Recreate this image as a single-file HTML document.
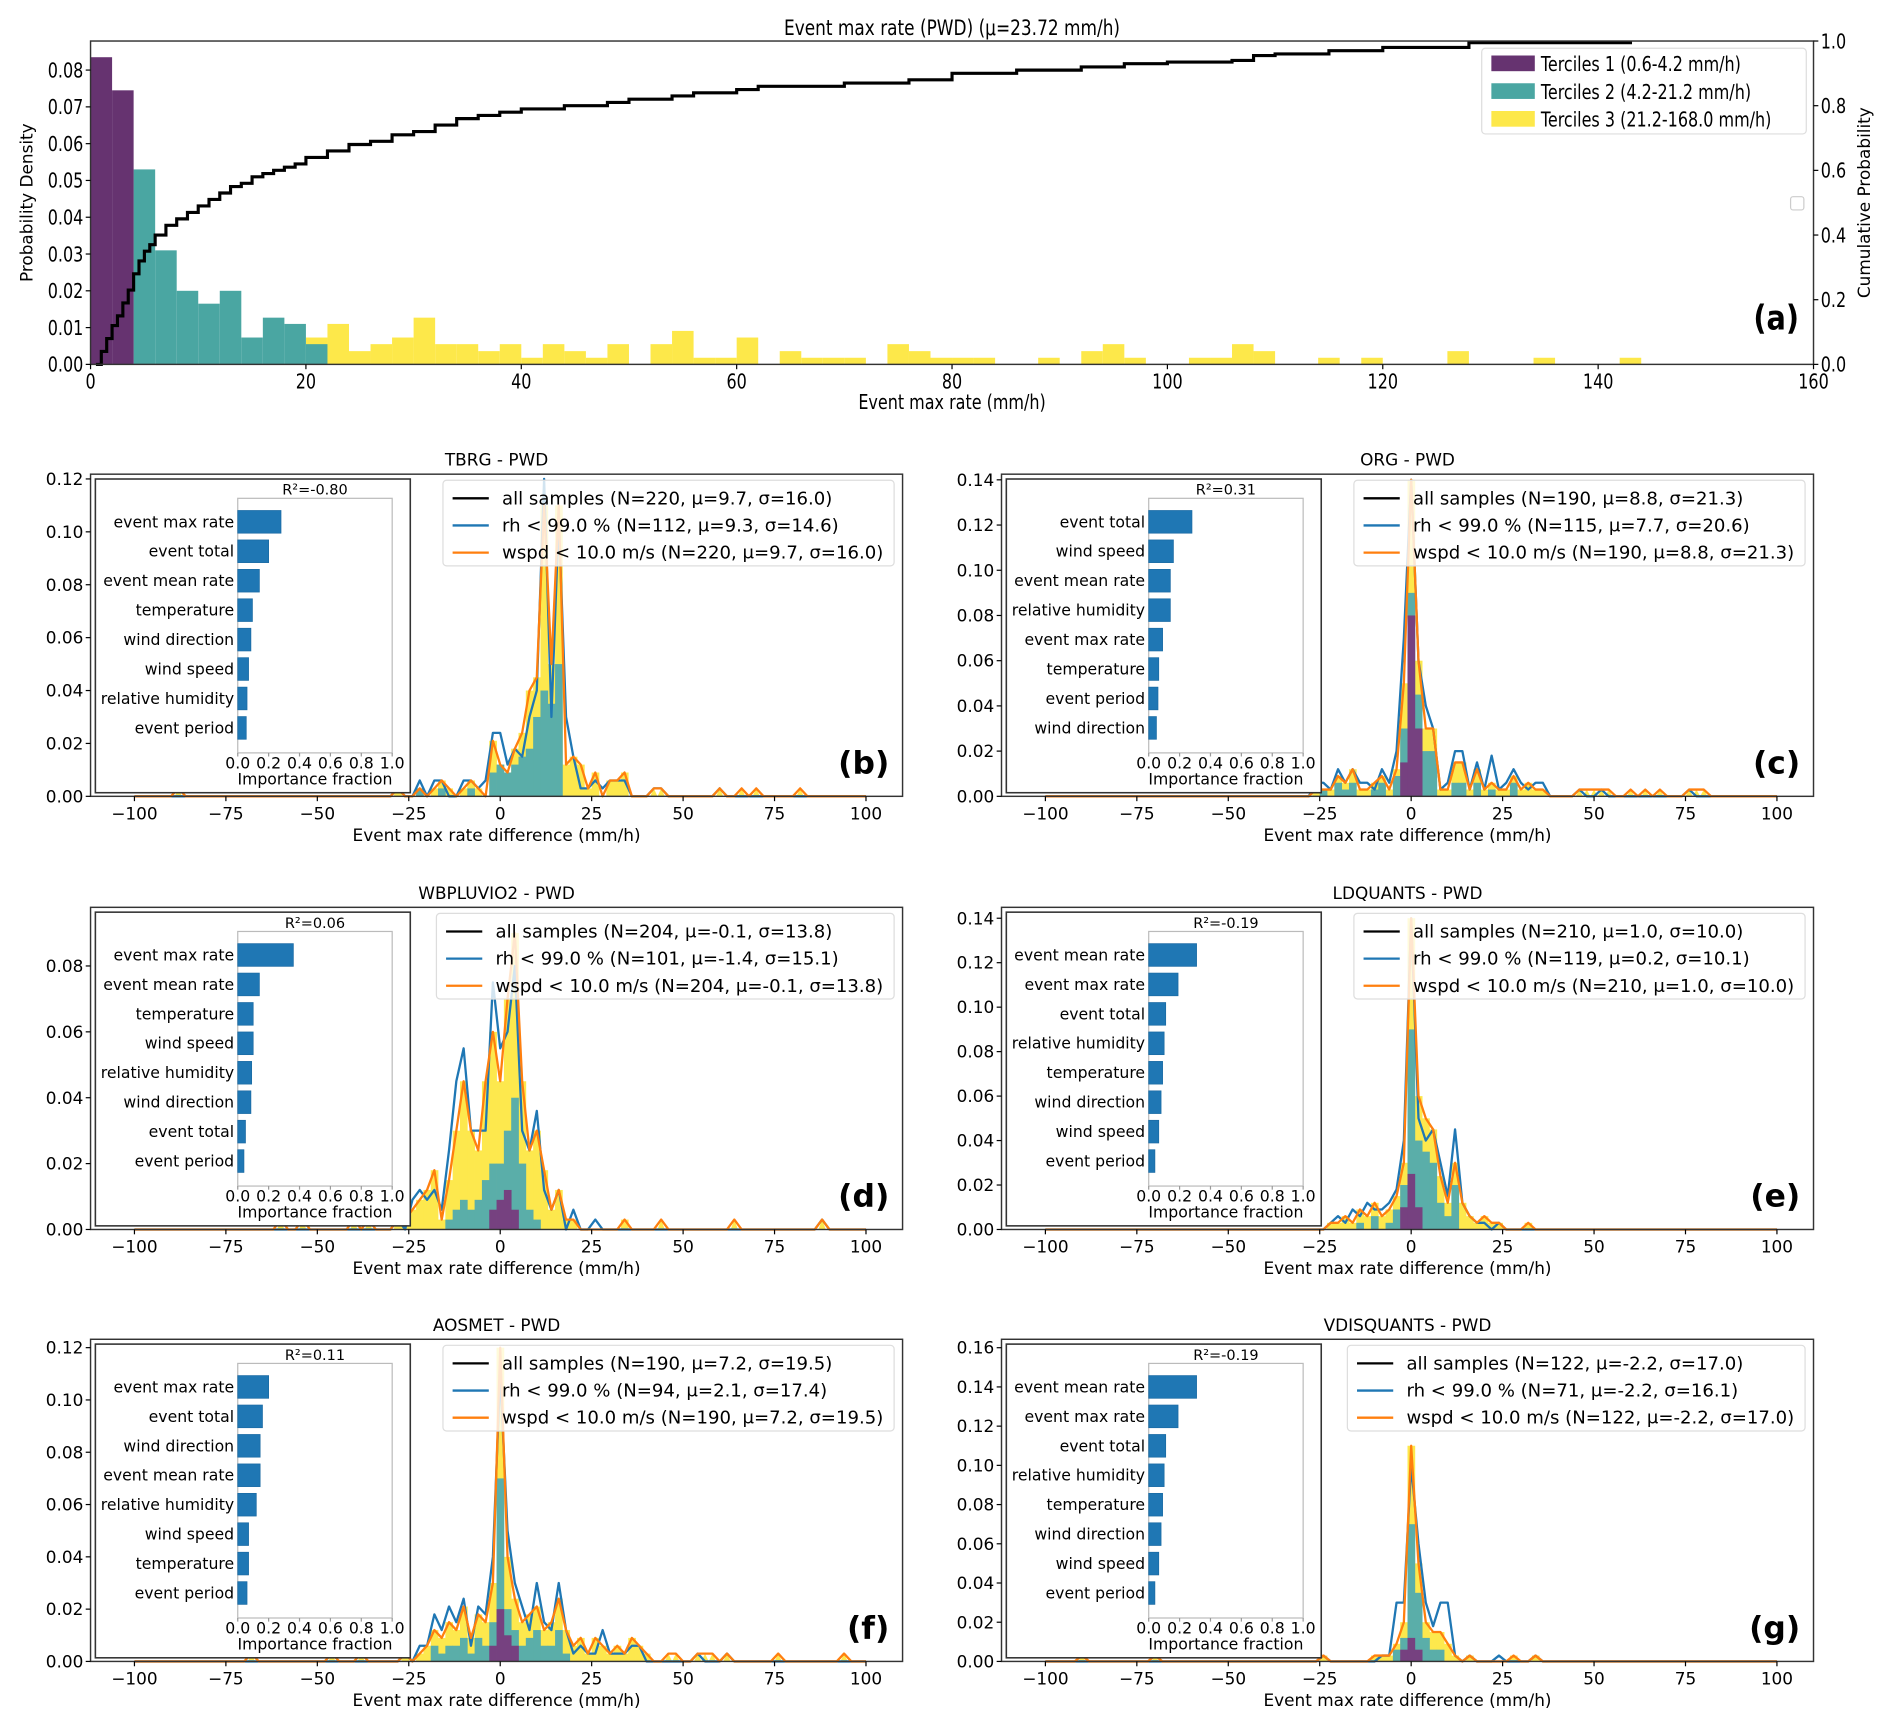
<!DOCTYPE html>
<html><head><meta charset="utf-8">
<style>
html,body{margin:0;padding:0;background:#fff;}
svg{display:block;}
text{font-family:"DejaVu Sans","Liberation Sans",sans-serif;fill:#000;}
</style></head>
<body>
<svg id="fig" width="1892" height="1729" viewBox="0 0 1568 1433" xmlns="http://www.w3.org/2000/svg"></svg>
<script>
// ---------- Panel (a) data ----------
const topBinsPurple = [0.0835, 0.0745];            // bins 0-2, 2-4
const topBinsTeal = [0.053,0.031,0.020,0.0165,0.020,0.0073,0.0127,0.011,0.0055]; // 4..22
const topYellowStart = 20;
const topBinsYellow = [0.0073,0.011,0.0036,0.0055,0.0073,0.0127,0.0055,0.0055,0.0036,0.0055,
 0.0018,0.0055,0.0036,0.0018,0.0055,0,0.0055,0.0091,0.0018,0.0018,0.0073,0,0.0036,0.0018,0.0018,
 0.0018,0,0.0055,0.0036,0.0018,0.0018,0.0018,0,0,0.0018,0,0.0036,0.0055,0.0018,0,0,0.0018,0.0018,
 0.0055,0.0036,0,0,0.0018,0,0.0018,0,0,0,0.0036,0,0,0,0.0018,0,0,0,0.0018];
const cdfX = [0.5,1,1.5,2,2.5,3,3.5,4,4.5,5,5.5,6,7,8,9,10,11,12,13,14,15,16,17,18,19,20,22,24,26,28,30,32,34,36,38,40,44,48,50,54,56,60,62,70,76,80,86,92,96,100,106,108,110,115,120,128,143];
const cdfP = [0,0.04,0.08,0.12,0.15,0.19,0.23,0.28,0.32,0.35,0.37,0.40,0.43,0.45,0.47,0.49,0.51,0.53,0.55,0.56,0.58,0.59,0.60,0.61,0.62,0.64,0.66,0.68,0.69,0.71,0.72,0.74,0.76,0.77,0.78,0.79,0.80,0.81,0.82,0.83,0.84,0.85,0.86,0.87,0.88,0.90,0.91,0.92,0.93,0.935,0.94,0.955,0.96,0.97,0.98,0.995,1.0];
const topXTicks = [0,20,40,60,80,100,120,140,160];
const topYTicks = [0,0.01,0.02,0.03,0.04,0.05,0.06,0.07,0.08];
const topY2Ticks = [0,0.2,0.4,0.6,0.8,1.0];

// ---------- Small panels data (bins of 2 mm/h, centres -30..40) ----------
const coreCenters = [-30,-28,-26,-24,-22,-20,-18,-16,-14,-12,-10,-8,-6,-4,-2,0,2,4,6,8,10,12,14,16,18,20,22,24,26,28,30,32,34,36,38,40];
const smallXTicks = [-100,-75,-50,-25,0,25,50,75,100];
const impLabelsB = ["event max rate","event total","event mean rate","temperature","wind direction","wind speed","relative humidity","event period"];
const impValsB = [0.28,0.20,0.14,0.095,0.085,0.07,0.06,0.055];
const impLabelsC = ["event total","wind speed","event mean rate","relative humidity","event max rate","temperature","event period","wind direction"];
const impValsC = [0.28,0.16,0.14,0.14,0.09,0.065,0.06,0.05];
const impLabelsD = ["event max rate","event mean rate","temperature","wind speed","relative humidity","wind direction","event total","event period"];
const impValsD = [0.36,0.14,0.10,0.10,0.09,0.085,0.05,0.04];
const impLabelsE = ["event mean rate","event max rate","event total","relative humidity","temperature","wind direction","wind speed","event period"];
const impValsE = [0.31,0.19,0.11,0.10,0.09,0.08,0.065,0.04];
const impLabelsF = ["event max rate","event total","wind direction","event mean rate","relative humidity","wind speed","temperature","event period"];
const impValsF = [0.20,0.16,0.145,0.145,0.12,0.07,0.07,0.06];
const impLabelsG = ["event mean rate","event max rate","event total","relative humidity","temperature","wind direction","wind speed","event period"];
const impValsG = [0.31,0.19,0.11,0.10,0.09,0.08,0.065,0.04];

const orangeB=[0,0.003,0,0,0.003,0,0.003,0.006,0.003,0,0.003,0.006,0.003,0,0.021,0.012,0.009,0.018,0.024,0.04,0.045,0.11,0.05,0.11,0.012,0.015,0.012,0.003,0.009,0,0.006,0.006,0.009,0,0,0];
const blueB  =[0,0.003,0,0,0.006,0,0.006,0.006,0,0,0.006,0.006,0.003,0.006,0.024,0.024,0.012,0.018,0.015,0.03,0.04,0.12,0.03,0.105,0.03,0.015,0.003,0.003,0.006,0.003,0.006,0.006,0.006,0,0,0];
const tealB  =[0,0,0,0,0.003,0,0,0.003,0,0,0,0.003,0,0,0.009,0.012,0.009,0.012,0.015,0.018,0.03,0.04,0.035,0.05,0,0,0,0,0,0,0,0,0,0,0,0];
const purpB  =[0,0,0,0,0,0,0,0,0,0,0,0,0,0,0,0,0,0,0,0,0,0,0,0,0,0,0,0,0,0,0,0,0,0,0,0];
const outOB=[-88,42,44,60,66,70,82]; const outBB=[42,44,60];

const orangeC=[0,0,0.003,0.003,0.003,0.009,0.006,0.012,0.003,0.003,0.006,0.009,0.003,0.012,0.05,0.14,0.06,0.03,0.03,0.003,0.003,0.015,0.015,0.003,0.012,0.003,0.006,0.003,0.003,0.009,0.003,0.006,0.003,0.003,0,0];
const blueC  =[0,0,0.006,0.006,0.003,0.012,0.006,0.012,0.006,0.006,0.003,0.012,0.006,0.02,0.07,0.14,0.06,0.04,0.03,0.003,0.006,0.02,0.02,0.003,0.015,0.003,0.018,0.003,0.006,0.012,0.006,0.003,0.006,0.006,0,0];
const tealC  =[0,0,0,0.003,0,0.006,0.003,0.006,0,0,0.003,0.006,0,0.009,0.03,0.09,0.045,0.02,0.02,0,0,0.006,0.006,0,0.006,0,0.003,0,0,0.006,0,0,0,0,0,0];
const purpC  =[0,0,0,0,0,0,0,0,0,0,0,0,0,0,0.015,0.08,0.03,0,0,0,0,0,0,0,0,0,0,0,0,0,0,0,0,0,0,0];
const outOC=[46,48,50,52,54,60,64,68,76,78,80]; const outBC=[46,52,76];

const orangeD=[0,0.003,0.003,0.006,0.009,0.012,0.018,0.003,0.015,0.03,0.045,0.03,0.024,0.045,0.06,0.045,0.07,0.09,0.045,0.024,0.03,0.018,0.006,0.012,0.003,0.003,0,0,0,0,0,0,0.003,0,0,0];
const blueD  =[0,0.003,0,0.009,0.012,0.009,0.012,0.006,0.024,0.045,0.055,0.03,0.03,0.03,0.075,0.055,0.06,0.08,0.03,0.024,0.036,0.012,0.006,0.012,0,0.006,0,0,0.003,0,0,0,0,0,0,0];
const tealD  =[0,0,0,0,0,0,0,0,0.003,0.006,0.009,0.006,0.009,0.015,0.02,0.02,0.03,0.04,0.02,0.006,0.003,0,0,0,0,0,0,0,0,0,0,0,0,0,0,0];
const purpD  =[0,0,0,0,0,0,0,0,0,0,0,0,0,0,0.006,0.009,0.012,0.006,0,0,0,0,0,0,0,0,0,0,0,0,0,0,0,0,0,0];
const outOD=[-60,-54,-40,-36,44,64,88]; const outBD=[88];

const orangeE=[0,0,0,0,0.003,0.003,0.006,0.003,0.009,0.006,0.012,0.006,0.009,0.015,0.03,0.14,0.06,0.05,0.045,0.024,0.012,0.03,0.012,0.006,0.003,0.006,0.003,0.003,0,0,0,0.003,0,0,0,0];
const blueE  =[0,0,0,0,0.003,0.006,0.003,0.009,0.006,0.012,0.009,0.009,0.012,0.018,0.04,0.14,0.05,0.04,0.045,0.03,0.015,0.045,0.012,0.006,0.003,0.003,0,0.003,0,0,0,0,0,0,0,0];
const tealE  =[0,0,0,0,0,0,0,0,0.003,0,0.006,0,0.003,0.009,0.02,0.09,0.04,0.035,0.03,0.012,0.006,0.02,0,0,0,0,0,0,0,0,0,0,0,0,0,0];
const purpE  =[0,0,0,0,0,0,0,0,0,0,0,0,0,0,0.01,0.025,0.01,0,0,0,0,0,0,0,0,0,0,0,0,0,0,0,0,0,0,0];
const outOE=[]; const outBE=[];

const orangeF=[0,0,0.003,0,0.003,0.006,0.012,0.009,0.015,0.012,0.021,0.009,0.018,0.015,0.03,0.12,0.04,0.024,0.015,0.018,0.021,0.012,0.015,0.024,0.012,0.006,0.009,0.003,0.009,0.006,0.003,0.006,0.003,0.009,0.006,0.003];
const blueF  =[0,0,0.003,0,0.006,0.006,0.018,0.012,0.021,0.015,0.024,0.006,0.021,0.018,0.04,0.11,0.05,0.03,0.021,0.012,0.03,0.015,0.012,0.03,0.012,0.003,0.006,0.003,0.003,0.012,0.003,0.003,0.003,0.006,0.006,0];
const tealF  =[0,0,0,0,0,0,0.006,0.003,0.006,0.006,0.009,0.003,0.009,0.006,0.015,0.07,0.02,0.012,0.006,0.009,0.012,0.006,0.006,0.012,0.003,0,0,0,0,0,0,0,0,0,0,0];
const purpF  =[0,0,0,0,0,0,0,0,0,0,0,0,0,0,0.006,0.02,0.01,0.006,0,0,0,0,0,0,0,0,0,0,0,0,0,0,0,0,0,0];
const outOF=[-68,-46,-38,46,48,54,56,58,62,76,94]; const outBF=[54,62];

const orangeG=[0,0,0,0.003,0,0,0,0,0,0,0.003,0.003,0.003,0.009,0.02,0.11,0.05,0.02,0.015,0.015,0.009,0.003,0,0.003,0,0,0,0,0,0.003,0,0,0.003,0,0,0];
const blueG  =[0,0,0,0.003,0,0,0,0,0,0,0,0.003,0.003,0.03,0.03,0.1,0.06,0.03,0.018,0.03,0.03,0.003,0,0.003,0,0,0,0,0,0,0,0,0.003,0,0,0];
const tealG  =[0,0,0,0,0,0,0,0,0,0,0,0,0,0.006,0.012,0.07,0.035,0.012,0.006,0.006,0,0,0,0,0,0,0,0,0,0,0,0,0,0,0,0];
const purpG  =[0,0,0,0,0,0,0,0,0,0,0,0,0,0,0.006,0.012,0.006,0,0,0,0,0,0,0,0,0,0,0,0,0,0,0,0,0,0,0];
const outOG=[-90,-70]; const outBG=[24];

const NS="http://www.w3.org/2000/svg";
const svg=document.getElementById('fig');
function el(tag,attrs,parent,txt){const e=document.createElementNS(NS,tag);for(const k in attrs)e.setAttribute(k,attrs[k]);if(txt!==undefined)e.textContent=txt;(parent||svg).appendChild(e);return e;}
// condensed text for panel (a)
function ctext(x,y,anchor,size,parent,s){return el('text',{x:0,y:0,transform:'translate('+x+','+y+') scale(0.78,1)','text-anchor':anchor,'font-size':size},parent,s);}

// ================= Panel (a) =================
(function(){
  const L=75,R=1503,T=34,B=302;
  const x=v=>L+(v-0)/(160-0)*(R-L);
  const y=v=>B-v/0.0879*(B-T);
  const y2=v=>B-v*(B-T);
  const g=el('g',{},svg);
  
  function bars(arr,start,col,name){arr.forEach((v,i)=>{if(v<=0)return;const r=el('rect',{x:x(start+2*i),y:y(v),width:x(start+2*i+2)-x(start+2*i),height:B-y(v),fill:col},g);});}
  bars(topBinsYellow,topYellowStart,'#fde84a','bar-tercile3');
  bars(topBinsTeal,4,'#4aa6a2','bar-tercile2');
  bars(topBinsPurple,0,'#663370','bar-tercile1');
  let d='M'+x(cdfX[0])+','+y2(cdfP[0]);
  for(let i=1;i<cdfX.length;i++){d+=' H'+x(cdfX[i])+' V'+y2(cdfP[i]);}
  const cl=el('path',{d:d,fill:'none',stroke:'#000','stroke-width':2.6},g);
  
  el('rect',{x:L,y:T,width:R-L,height:B-T,fill:'none',stroke:'#333','stroke-width':1.2},g);
  topXTicks.forEach(v=>{el('line',{x1:x(v),x2:x(v),y1:B,y2:B+4,stroke:'#000'},g);const t=ctext(x(v),B+20,'middle',17,g,String(v));});
  topYTicks.forEach(v=>{el('line',{x1:L-4,x2:L,y1:y(v),y2:y(v),stroke:'#000'},g);const t=ctext(L-6,y(v)+6,'end',17,g,v.toFixed(2));});
  topY2Ticks.forEach(v=>{el('line',{x1:R,x2:R+4,y1:y2(v),y2:y2(v),stroke:'#000'},g);const t=ctext(R+6,y2(v)+6,'start',17,g,v.toFixed(1));});
  const tt=ctext(789,29,'middle',18,g,'Event max rate (PWD)    (μ=23.72 mm/h)');
  const xl=ctext(789,339,'middle',17,g,'Event max rate (mm/h)');
  const yl=el('text',{x:0,y:0,transform:'translate(27,168) rotate(-90)','text-anchor':'middle','font-size':14},g,'Probability Density');
  const yl2=el('text',{x:0,y:0,transform:'translate(1550,168) rotate(-90)','text-anchor':'middle','font-size':14},g,'Cumulative Probability');
  el('rect',{x:1484,y:163,width:11,height:11,rx:2,fill:'#fff',stroke:'#ccc'},g);
  const lg=el('g',{},g);
  el('rect',{x:1228,y:40,width:269,height:71,rx:3,fill:'#fff','fill-opacity':0.85,stroke:'#ddd'},lg);
  const ents=[['#663370','Terciles 1 (0.6-4.2 mm/h)'],['#4aa6a2','Terciles 2 (4.2-21.2 mm/h)'],['#fde84a','Terciles 3 (21.2-168.0 mm/h)']];
  ents.forEach((e,i)=>{const r=el('rect',{x:1236,y:46+i*23,width:36,height:13,fill:e[0]},lg);const t=ctext(1277,59+i*23,'start',17,lg,e[1]);});
  const pl=el('text',{x:0,y:0,transform:'translate(1491,273) scale(0.85,1)','text-anchor':'end','font-size':28,'font-weight':'bold'},g,'(a)');
})();

// ================= small panels =================
function smallPanel(c){
  const L=c.L,R=c.L+673,T=c.T,B=c.T+267;
  const x=v=>L+(v+112)/222*(R-L);
  const y=v=>B-v/c.ymax*(B-T);
  const g=el('g',{},svg);
  
  function fill(arr,col,name){arr.forEach((v,i)=>{if(v<=0)return;const cx=coreCenters[i];const r=el('rect',{x:x(cx-1),y:y(v),width:x(cx+1)-x(cx-1)+0.3,height:B-y(v),fill:col},g);});}
  fill(c.orange,'#fde84d','hist-all-samples');
  c.outO.forEach(ox=>{const r=el('polygon',{points:x(ox-1)+','+B+' '+x(ox)+','+y(0.003)+' '+x(ox+1)+','+B,fill:'#fde84d'},g);});
  fill(c.teal,'#5aaea9','hist-tercile2');
  fill(c.purp,'#764180','hist-tercile1');
  function line(arr,outs,col,name){
    const m={};for(let k=-100;k<=100;k+=2)m[k]=0;
    coreCenters.forEach((cx,i)=>{m[cx]=arr[i];});
    outs.forEach(ox=>{m[Math.round(ox/2)*2]=0.003;});
    const pts=[];for(let k=-100;k<=100;k+=2)pts.push(x(k)+','+y(m[k]));
    const p=el('polyline',{points:pts.join(' '),fill:'none',stroke:col,'stroke-width':1.9,'stroke-linejoin':'round'},g);
    
  }
  line(c.blue,c.outB,'#1f77b4','line-rh');
  line(c.orange,c.outO,'#ff7f0e','line-wspd');
  el('rect',{x:L,y:T,width:R-L,height:B-T,fill:'none',stroke:'#333','stroke-width':1.2},g);
  smallXTicks.forEach(v=>{el('line',{x1:x(v),x2:x(v),y1:B,y2:B+4,stroke:'#000'},g);const t=el('text',{x:x(v),y:B+19,'text-anchor':'middle','font-size':14},g,(v<0?'−'+(-v):String(v)));});
  for(let v=0;v<=c.ymax+1e-9;v+=0.02){el('line',{x1:L-4,x2:L,y1:y(v),y2:y(v),stroke:'#000'},g);const t=el('text',{x:L-6,y:y(v)+5,'text-anchor':'end','font-size':14},g,v.toFixed(2));}
  const tt=el('text',{x:(L+R)/2,y:T-7,'text-anchor':'middle','font-size':14},g,c.title);
  const xl=el('text',{x:(L+R)/2,y:B+37,'text-anchor':'middle','font-size':14},g,'Event max rate difference (mm/h)');
  // legend
  const lg=el('g',{},g);
  const box=el('rect',{x:0,y:T+5,width:10,height:71,rx:3,fill:'#fff','fill-opacity':0.8,stroke:'#ddd'},lg);
  const cols=['#000','#1f77b4','#ff7f0e'];const ts=[];
  c.legend.forEach((s,i)=>{const t=el('text',{x:0,y:T+25+i*22.5,'font-size':15},lg,s);ts.push(t);});
  let w=0;ts.forEach(t=>{w=Math.max(w,t.getComputedTextLength());});
  const bx=R-7-(w+58);box.setAttribute('x',bx);box.setAttribute('width',w+58);
  ts.forEach((t,i)=>{t.setAttribute('x',bx+49);const ln=el('line',{x1:bx+8,x2:bx+38,y1:T+20+i*22.5,y2:T+20+i*22.5,stroke:cols[i],'stroke-width':1.9},lg);});
  const pl=el('text',{x:R-11,y:B-19,'text-anchor':'end','font-size':26,'font-weight':'bold'},g,'('+c.letter+')');
  // inset
  const ig=el('g',{},g);
  el('rect',{x:L+4,y:T+4,width:261,height:260,fill:'#fff',stroke:'#333','stroke-width':1.3},ig);
  const iL=L+122,iR=L+250,iT=T+20,iB=T+231;
  const ix=v=>iL+v*(iR-iL);
  el('rect',{x:iL,y:iT,width:iR-iL,height:iB-iT,fill:'none',stroke:'#bbb','stroke-width':1},ig);
  c.impV.forEach((v,i)=>{const cy=iT+19.5+i*24.4;const r=el('rect',{x:iL,y:cy-9.4,width:ix(v)-iL,height:18.8,fill:'#1f77b4',stroke:'#1a6aa3','stroke-width':0.6},ig);const t=el('text',{x:iL-3,y:cy+4.5,'text-anchor':'end','font-size':13},ig,c.impL[i]);});
  [0,0.2,0.4,0.6,0.8,1.0].forEach(v=>{el('line',{x1:ix(v),x2:ix(v),y1:iB,y2:iB+3,stroke:'#999'},ig);const t=el('text',{x:ix(v),y:iB+13,'text-anchor':'middle','font-size':13},ig,v.toFixed(1));});
  const it=el('text',{x:(iL+iR)/2,y:iB+26,'text-anchor':'middle','font-size':13},ig,'Importance fraction');
  const rt=el('text',{x:(iL+iR)/2,y:iT-3,'text-anchor':'middle','font-size':12},ig,c.r2);
}
const LC=75,RC=830;
smallPanel({letter:'b',L:LC,T:393,ymax:0.1218,title:'TBRG - PWD',r2:'R²=-0.80',orange:orangeB,blue:blueB,teal:tealB,purp:purpB,outO:outOB,outB:outBB,impL:impLabelsB,impV:impValsB,
 legend:['all samples (N=220, μ=9.7, σ=16.0)','rh < 99.0 % (N=112, μ=9.3, σ=14.6)','wspd < 10.0 m/s (N=220, μ=9.7, σ=16.0)']});
smallPanel({letter:'c',L:RC,T:393,ymax:0.1425,title:'ORG - PWD',r2:'R²=0.31',orange:orangeC,blue:blueC,teal:tealC,purp:purpC,outO:outOC,outB:outBC,impL:impLabelsC,impV:impValsC,
 legend:['all samples (N=190, μ=8.8, σ=21.3)','rh < 99.0 % (N=115, μ=7.7, σ=20.6)','wspd < 10.0 m/s (N=190, μ=8.8, σ=21.3)']});
smallPanel({letter:'d',L:LC,T:752,ymax:0.0978,title:'WBPLUVIO2 - PWD',r2:'R²=0.06',orange:orangeD,blue:blueD,teal:tealD,purp:purpD,outO:outOD,outB:outBD,impL:impLabelsD,impV:impValsD,
 legend:['all samples (N=204, μ=-0.1, σ=13.8)','rh < 99.0 % (N=101, μ=-1.4, σ=15.1)','wspd < 10.0 m/s (N=204, μ=-0.1, σ=13.8)']});
smallPanel({letter:'e',L:RC,T:752,ymax:0.1449,title:'LDQUANTS - PWD',r2:'R²=-0.19',orange:orangeE,blue:blueE,teal:tealE,purp:purpE,outO:outOE,outB:outBE,impL:impLabelsE,impV:impValsE,
 legend:['all samples (N=210, μ=1.0, σ=10.0)','rh < 99.0 % (N=119, μ=0.2, σ=10.1)','wspd < 10.0 m/s (N=210, μ=1.0, σ=10.0)']});
smallPanel({letter:'f',L:LC,T:1110,ymax:0.1232,title:'AOSMET - PWD',r2:'R²=0.11',orange:orangeF,blue:blueF,teal:tealF,purp:purpF,outO:outOF,outB:outBF,impL:impLabelsF,impV:impValsF,
 legend:['all samples (N=190, μ=7.2, σ=19.5)','rh < 99.0 % (N=94, μ=2.1, σ=17.4)','wspd < 10.0 m/s (N=190, μ=7.2, σ=19.5)']});
smallPanel({letter:'g',L:RC,T:1110,ymax:0.1643,title:'VDISQUANTS - PWD',r2:'R²=-0.19',orange:orangeG,blue:blueG,teal:tealG,purp:purpG,outO:outOG,outB:outBG,impL:impLabelsG,impV:impValsG,
 legend:['all samples (N=122, μ=-2.2, σ=17.0)','rh < 99.0 % (N=71, μ=-2.2, σ=16.1)','wspd < 10.0 m/s (N=122, μ=-2.2, σ=17.0)']});
</script>
</body></html>
